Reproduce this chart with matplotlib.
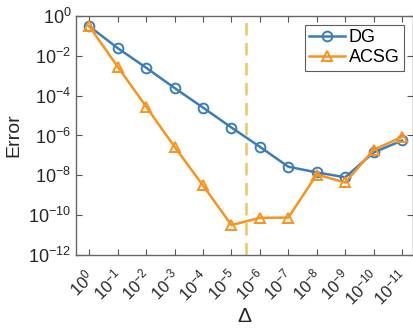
import matplotlib.pyplot as plt
import matplotlib.transforms as mtransforms
import numpy as np

plt.rcParams['font.family'] = ['Liberation Sans', 'DejaVu Sans']
plt.rcParams['mathtext.fontset'] = 'custom'
plt.rcParams['mathtext.rm'] = 'Liberation Sans'
plt.rcParams['mathtext.it'] = 'Liberation Sans'
plt.rcParams['mathtext.default'] = 'rm'

# exponents of Delta
exps = [0, -1, -2, -3, -4, -5, -6, -7, -8, -9, -10, -11]
dg_err = [0.3, 2.4e-2, 2.5e-3, 2.4e-4, 2.5e-5, 2.5e-6, 2.7e-7, 2.7e-8, 1.4e-8, 8e-9, 1.4e-7, 5.6e-7]
acsg_err = [0.3, 2.8e-3, 2.8e-5, 2.7e-7, 3.1e-9, 3.2e-11, 7.4e-11, 7.6e-11, 1.1e-8, 4.4e-9, 1.9e-7, 8.5e-7]
tick_labels = [f'$10^{{{e}}}$' for e in exps]
cut_pos = 5.5

blue = '#3B7DB9'
orange = '#F7931E'

fig = plt.figure(figsize=(4.14, 3.3), dpi=100)
ax = fig.add_axes([0.184, 0.227, 0.814, 0.725])

x = np.arange(len(exps))
ax.plot(x, dg_err, '-o', color=blue, lw=1.8, ms=7, mfc='none', mew=1.4, label='DG')
ax.plot(x, acsg_err, '-^', color=orange, lw=1.8, ms=7.5, mfc='none', mew=1.4, label='ACSG')
ax.axvline(cut_pos, color='#EFC565', ls=(0, (5, 3)), lw=1.8)

ax.set_yscale('log')
ax.set_ylim(1e-12, 1)
ax.set_yticks([10.0**k for k in range(-12, 1, 2)])
ax.set_yticklabels([f'$10^{{{k}}}$' for k in range(-12, 1, 2)])
ax.minorticks_off()
ax.set_xlim(-0.46, 11.39)
ax.set_xticks(x)
ax.set_xticklabels([])
ax.tick_params(direction='in', top=True, right=True, labelsize=13, color='#555555',
               labelcolor='#262626', length=4, width=0.8)

# rotated x tick labels, anchored at their right end like MATLAB does
lab_trans = ax.get_xaxis_transform() + mtransforms.ScaledTranslation(2 / 100, -18 / 100, fig.dpi_scale_trans)
for xi, lab in zip(x, tick_labels):
    ax.text(xi, 0, lab, transform=lab_trans, rotation=45, rotation_mode='anchor',
            ha='right', va='center', fontsize=12, color='#262626')

for s in ax.spines.values():
    s.set_color('#666666')
    s.set_linewidth(1.0)

ax.set_ylabel('Error', fontsize=14, color='#262626', labelpad=4)
ax.set_xlabel(r'$\Delta$', fontsize=15, color='#262626', va='center')
ax.xaxis.set_label_coords(0.5, -0.255)

leg = ax.legend(loc='upper right', fontsize=13, frameon=True, fancybox=False, edgecolor='#333333',
                handlelength=2.0, borderpad=0.25, labelspacing=0.15, handletextpad=0.2,
                borderaxespad=0.5)
leg.get_frame().set_linewidth(0.8)

fig.savefig('out.png', dpi=100)
